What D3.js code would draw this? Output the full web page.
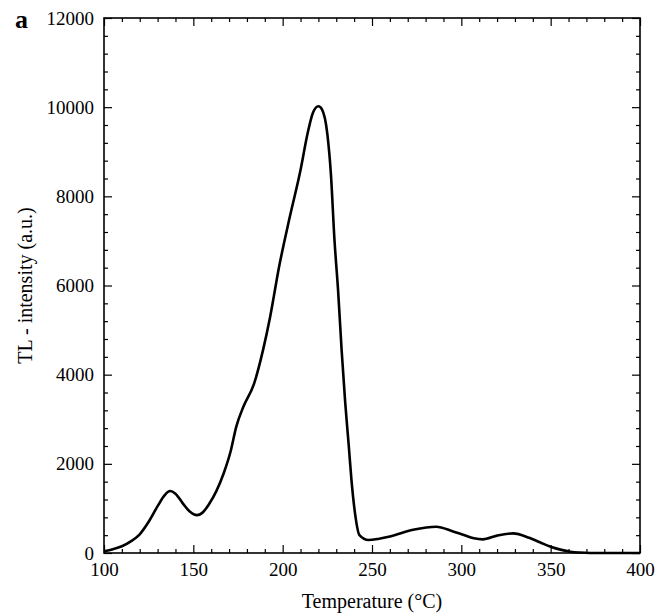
<!DOCTYPE html>
<html>
<head>
<meta charset="utf-8">
<script src="https://cdn.jsdelivr.net/npm/d3@7.8.5/dist/d3.min.js"></script>
<style>
  html, body { margin: 0; padding: 0; background: #fff; }
  svg text { font-family: "Liberation Serif", "Times New Roman", serif; fill: #000; }
</style>
</head>
<body>
<div id="chart"></div>
<script>
// Glow curve
const temperature = [100, 105, 110, 115, 120, 125, 130, 134, 137, 140, 144, 148, 152, 155, 159, 163, 167, 171, 174, 178, 184, 189, 193, 198, 204, 210, 214, 217, 220, 222, 225, 227, 229, 231, 233, 235, 237, 238.5, 240.5, 243, 248, 254, 260, 273, 286, 295, 301, 307, 312, 320, 329, 338, 344, 350, 356, 361, 366, 372, 380, 400];
const intensity = [40, 85, 150, 260, 420, 700, 1050, 1300, 1390, 1330, 1120, 930, 850, 900, 1110, 1400, 1790, 2300, 2830, 3280, 3800, 4550, 5300, 6420, 7540, 8590, 9420, 9880, 10020, 9950, 9400, 8500, 7020, 5900, 4550, 3380, 2400, 1640, 890, 400, 290, 320, 370, 520, 590, 490, 410, 330, 305, 390, 440, 340, 240, 140, 70, 30, 10, 0, 0, 0];

const xMajor = [100, 150, 200, 250, 300, 350, 400];
const yMajor = [0, 2000, 4000, 6000, 8000, 10000, 12000];
const xMinor = d3.range(100, 401, 10).filter(v => v % 50 !== 0);
const yMinor = d3.range(0, 12001, 400).filter(v => v % 2000 !== 0);

const width = 666, height = 616;
const margin = { top: 18, right: 26, bottom: 63, left: 104 };
const plotW = width - margin.left - margin.right;
const plotH = height - margin.top - margin.bottom;

const svg = d3.select('#chart').append('svg')
    .attr('width', width)
    .attr('height', height);

svg.append('rect').attr('width', width).attr('height', height).attr('fill', '#fff');

const g = svg.append('g')
    .attr('transform', `translate(${margin.left},${margin.top})`);

const x = d3.scaleLinear().domain([100, 400]).range([0, plotW]);
const y = d3.scaleLinear().domain([0, 12000]).range([plotH, 0]);

// inward ticks on all four sides
function addAxis(axisFn, scale, values, size, labels, transform) {
    const a = axisFn(scale).tickValues(values).tickSizeInner(-size).tickSizeOuter(0).tickPadding(10)
        .tickFormat(labels ? d3.format('d') : '');
    const sel = g.append('g').attr('transform', transform || null).call(a);
    sel.select('.domain').remove();
    sel.selectAll('line').attr('stroke', '#000').attr('stroke-width', 1.2);
    sel.selectAll('text').style('font-size', '19px');
    return sel;
}

addAxis(d3.axisBottom, x, xMajor, 8, true, `translate(0,${plotH})`);
addAxis(d3.axisBottom, x, xMinor, 4, false, `translate(0,${plotH})`);
addAxis(d3.axisTop, x, xMajor, 8, false);
addAxis(d3.axisTop, x, xMinor, 4, false);
addAxis(d3.axisLeft, y, yMajor, 8, true);
addAxis(d3.axisLeft, y, yMinor, 4, false);
addAxis(d3.axisRight, y, yMajor, 8, false, `translate(${plotW},0)`);
addAxis(d3.axisRight, y, yMinor, 4, false, `translate(${plotW},0)`);

// frame
g.append('rect')
    .attr('width', plotW)
    .attr('height', plotH)
    .attr('fill', 'none')
    .attr('stroke', '#000')
    .attr('stroke-width', 1.6);

// curve
const line = d3.line()
    .x((d, i) => x(temperature[i]))
    .y(d => y(d))
    .curve(d3.curveMonotoneX);

g.append('path')
    .datum(intensity)
    .attr('d', line)
    .attr('fill', 'none')
    .attr('stroke', '#000')
    .attr('stroke-width', 2.6)
    .attr('stroke-linejoin', 'round');

// axis titles
svg.append('text')
    .attr('x', margin.left + plotW / 2)
    .attr('y', 608)
    .attr('text-anchor', 'middle')
    .style('font-size', '20px')
    .text('Temperature (°C)');

svg.append('text')
    .attr('transform', `translate(32,${margin.top + plotH / 2}) rotate(-90)`)
    .attr('text-anchor', 'middle')
    .style('font-size', '20px')
    .text('TL - intensity (a.u.)');

// panel letter
svg.append('text')
    .attr('x', 15)
    .attr('y', 28)
    .style('font-size', '26px')
    .style('font-weight', 'bold')
    .text('a');
</script>
</body>
</html>
